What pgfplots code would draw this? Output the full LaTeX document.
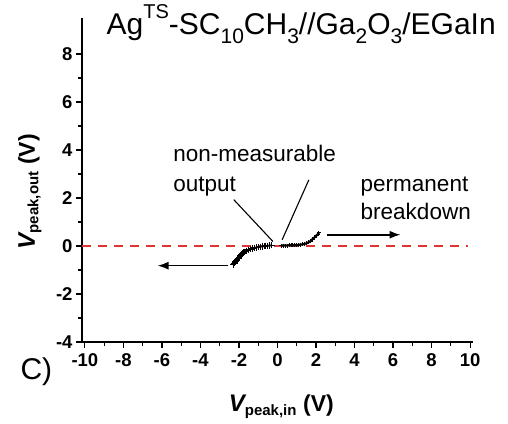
\documentclass[border=0pt]{standalone}
\usepackage{fontspec}
\setmainfont{Liberation Sans}
\usepackage{pgfplots}
\usetikzlibrary{arrows.meta}
\pgfplotsset{compat=1.18}
\definecolor{dashred}{RGB}{222,52,52}
\newcommand{\sub}[1]{\raisebox{-0.3em}{\fontsize{21}{21}\selectfont #1}}
\newcommand{\sups}[1]{\raisebox{0.55em}{\fontsize{20}{20}\selectfont #1}}
\begin{document}
\begin{tikzpicture}
\begin{axis}[
  at={(0,0)}, anchor=south west,
  scale only axis, width=391pt, height=324pt,
  xmin=-10.15, xmax=10.15, ymin=-4, ymax=9.5,
  axis x line=bottom, axis y line=left,
  axis line style={-, line width=1.4pt},
  xtick={-10,-8,...,10}, xticklabels={-10,-8,-6,-4,-2,0,2,4,6,8,10},
  ytick={-4,-2,...,8}, yticklabels={-4,-2,0,2,4,6,8},
  minor x tick num=1, minor y tick num=1,
  tick align=outside,
  major tick length=6pt, minor tick length=4pt,
  every tick/.style={black, line width=1.2pt},
  tick label style={font=\fontsize{18.5}{18.5}\selectfont\bfseries},
  xticklabel style={yshift=-2pt},
  clip=false,
]
\addplot[dashred, line width=1.5pt, dash pattern=on 9pt off 7pt] coordinates {(-10.15,0) (9.9,0)};
\addplot[black, line width=1.8pt, mark=+, mark size=3.2pt, mark options={line width=1pt}] coordinates {
(-2.30,-0.78) (-2.27,-0.74) (-2.24,-0.72) (-2.21,-0.69) (-2.18,-0.66) (-2.15,-0.63)
(-2.12,-0.60) (-2.09,-0.57) (-2.06,-0.54) (-2.03,-0.51) (-2.00,-0.48) (-1.96,-0.44)
(-1.92,-0.40) (-1.88,-0.36) (-1.84,-0.33) (-1.80,-0.30) (-1.75,-0.27) (-1.70,-0.24)
(-1.60,-0.20) (-1.50,-0.16) (-1.40,-0.13) (-1.30,-0.10) (-1.20,-0.08) (-1.10,-0.06)
(-1.00,-0.05) (-0.90,-0.03) (-0.80,-0.02) (-0.70,-0.01) (-0.60,0.00) (-0.50,0.01)
(-0.40,0.02) (-0.30,0.03)
};
\addplot[black, line width=2.2pt, mark=+, mark size=2pt, mark options={line width=0.9pt}] coordinates {
(0.20,0.02) (0.30,0.02) (0.40,0.02) (0.50,0.02) (0.60,0.03) (0.70,0.03) (0.80,0.03)
(0.90,0.04) (1.00,0.04) (1.10,0.05) (1.20,0.06) (1.30,0.07) (1.40,0.09) (1.50,0.11)
(1.60,0.15) (1.70,0.20) (1.80,0.27) (1.90,0.34) (2.00,0.42) (2.10,0.50) (2.15,0.56)
};
% arrows and leader lines
\draw[-{Latex[length=11pt,width=8pt]}, line width=1.6pt] (axis cs:-2.55,-0.82) -- (axis cs:-6.23,-0.82);
\draw[-{Latex[length=11pt,width=8pt]}, line width=1.6pt] (axis cs:2.58,0.47) -- (axis cs:6.39,0.47);
\draw[line width=1.1pt] (axis cs:-2.27,1.93) -- (axis cs:-0.24,0.19);
\draw[line width=1.1pt] (axis cs:1.63,2.76) -- (axis cs:0.24,0.26);
% annotations
\node[anchor=base west, inner sep=0pt, font=\fontsize{22.5}{22.5}\selectfont] at (axis cs:-5.42,3.5) {non-measurable};
\node[anchor=base west, inner sep=0pt, font=\fontsize{22.5}{22.5}\selectfont] at (axis cs:-5.42,2.28) {output};
\node[anchor=base west, inner sep=0pt, font=\fontsize{22.5}{22.5}\selectfont] at (axis cs:4.31,2.28) {permanent};
\node[anchor=base west, inner sep=0pt, font=\fontsize{22.5}{22.5}\selectfont] at (axis cs:4.31,1.12) {breakdown};
% title
\node[anchor=base west, inner sep=0pt, font=\fontsize{30}{30}\selectfont] at (axis cs:-8.88,8.8)
  {Ag\sups{TS}-SC\sub{10}CH\sub{3}//Ga\sub{2}O\sub{3}/EGaIn};
% axis labels
\node[anchor=base, inner sep=0pt, font=\bfseries] at (axis cs:0.2,-6.9)
  {\fontsize{24}{24}\selectfont\itshape V\raisebox{-0.15em}{\fontsize{15}{15}\selectfont\upshape peak,in} \fontsize{23}{23}\selectfont\upshape (V)};
\node[anchor=base, rotate=90, inner sep=0pt, font=\bfseries] at (axis cs:-12.6,2.26)
  {\fontsize{24}{24}\selectfont\itshape V\raisebox{-0.15em}{\fontsize{15}{15}\selectfont\upshape peak,out} \fontsize{23}{23}\selectfont\upshape (V)};
\node[anchor=base west, inner sep=0pt, font=\fontsize{30}{30}\selectfont] at (axis cs:-13.35,-5.55) {C)};
\end{axis}
\pgfresetboundingbox
\path[use as bounding box] (-82pt,-81pt) rectangle (426pt,342pt);
\end{tikzpicture}
\end{document}
